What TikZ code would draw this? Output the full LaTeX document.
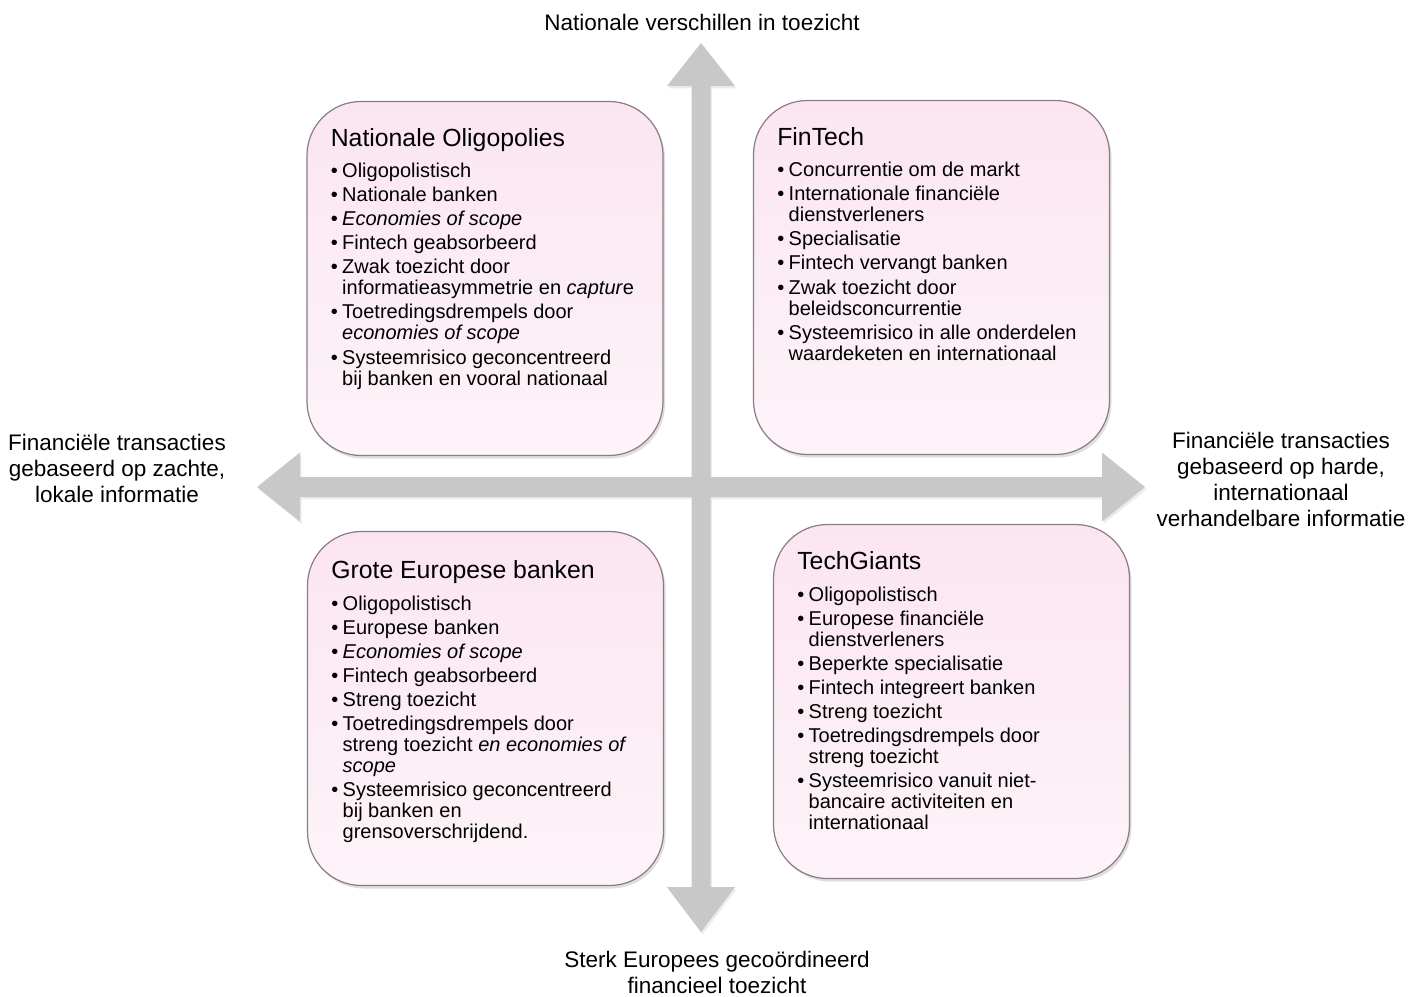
\documentclass[tikz,border=0pt]{standalone}
\usepackage{fontspec}
\setmainfont{Liberation Sans}
\usepackage{tikz}
\usetikzlibrary{shadows}

\definecolor{axisgray}{RGB}{200,200,200}
\definecolor{boxline}{RGB}{140,122,134}
\definecolor{boxtop}{RGB}{251,229,241}
\definecolor{boxbot}{RGB}{253,244,249}

\newcommand{\bl}{\textbullet\hspace{2.2pt}}
\newcommand{\ind}{\phantom{\textbullet}\hspace{2.2pt}}

\begin{document}
\begin{tikzpicture}[x=0.5pt, y=-0.5pt,
    quadrant/.style={draw=boxline, line width=0.6pt, rounded corners=27pt,
      top color=boxtop, bottom color=boxbot, inner sep=0pt,
      minimum width=178pt, minimum height=177pt,
      drop shadow={opacity=0.25, shadow xshift=1pt, shadow yshift=-1.5pt}},
    qtitle/.style={anchor=base west, inner sep=0pt, font=\fontsize{12.4}{14}\selectfont},
    qlist/.style={anchor=north west, inner sep=0pt, align=left, font=\fontsize{10}{10.5}\selectfont},
    axislabel/.style={align=center, inner sep=0pt, font=\fontsize{11.25}{13}\selectfont},
    axis/.style={fill=axisgray, drop shadow={opacity=0.15, shadow xshift=0.8pt, shadow yshift=-1.2pt}}]
  \useasboundingbox (0,0) rectangle (1416,996);

  %% *** Axes ***
  \coordinate (up) at (701,43);
  \coordinate (down) at (701,932);
  \coordinate (left) at (257,487);
  \coordinate (right) at (1145,487);
  \fill[axis] (up) -- (735,86) -- (710.5,86) -- (710.5,887) -- (735,887) -- (down)
    -- (667,887) -- (691.5,887) -- (691.5,86) -- (667,86) -- cycle
    (left) -- (300,452.5) -- (300,477) -- (1102,477) -- (1102,452.5) -- (right)
    -- (1102,521.5) -- (1102,497) -- (300,497) -- (300,521.5) -- cycle;

  \node[axislabel] (toplabel) at (702,22) {Nationale verschillen in toezicht};
  \node[axislabel] (bottomlabel) at (717,972.5) {Sterk Europees gecoördineerd\\financieel toezicht};
  \node[axislabel] (leftlabel) at (117,468) {Financiële transacties\\gebaseerd op zachte,\\lokale informatie};
  \node[axislabel] (rightlabel) at (1281,479.5) {Financiële transacties\\gebaseerd op harde,\\internationaal\\verhandelbare informatie};

  %% *** Nationale Oligopolies ***
  \node[quadrant] (natolig) at (485,278.5) {};
  \node[qtitle] (natolig-t) at ([xshift=12pt, yshift=-23pt]natolig.north west) {Nationale Oligopolies};
  \node[qlist] (natolig-l) at ([xshift=12pt, yshift=-30.8pt]natolig.north west) {%
    \bl Oligopolistisch\\[1.55pt]
    \bl Nationale banken\\[1.55pt]
    \bl \textit{Economies of scope}\\[1.55pt]
    \bl Fintech geabsorbeerd\\[1.55pt]
    \bl Zwak toezicht door\\
    \ind informatieasymmetrie en \textit{captur}e\\[1.55pt]
    \bl Toetredingsdrempels door\\
    \ind \textit{economies of scope}\\[1.55pt]
    \bl Systeemrisico geconcentreerd\\
    \ind bij banken en vooral nationaal};

  %% *** FinTech ***
  \node[quadrant] (fintech) at (931.5,277.5) {};
  \node[qtitle] (fintech-t) at ([xshift=12pt, yshift=-23pt]fintech.north west) {FinTech};
  \node[qlist] (fintech-l) at ([xshift=12pt, yshift=-30.9pt]fintech.north west) {%
    \bl Concurrentie om de markt\\[1.55pt]
    \bl Internationale financiële\\
    \ind dienstverleners\\[1.55pt]
    \bl Specialisatie\\[1.55pt]
    \bl Fintech vervangt banken\\[1.55pt]
    \bl Zwak toezicht door\\
    \ind beleidsconcurrentie\\[1.55pt]
    \bl Systeemrisico in alle onderdelen\\
    \ind waardeketen en internationaal};

  %% *** Grote Europese banken ***
  \node[quadrant] (grote) at (485.5,708.5) {};
  \node[qtitle] (grote-t) at ([xshift=12pt, yshift=-23.6pt]grote.north west) {Grote Europese banken};
  \node[qlist] (grote-l) at ([xshift=12pt, yshift=-32.2pt]grote.north west) {%
    \bl Oligopolistisch\\[1.55pt]
    \bl Europese banken\\[1.55pt]
    \bl \textit{Economies of scope}\\[1.55pt]
    \bl Fintech geabsorbeerd\\[1.55pt]
    \bl Streng toezicht\\[1.55pt]
    \bl Toetredingsdrempels door\\
    \ind streng toezicht \textit{en economies of}\\
    \ind \textit{scope}\\[1.55pt]
    \bl Systeemrisico geconcentreerd\\
    \ind bij banken en\\
    \ind grensoverschrijdend.};

  %% *** TechGiants ***
  \node[quadrant] (techgiants) at (951.5,701.5) {};
  \node[qtitle] (techgiants-t) at ([xshift=12pt, yshift=-22.6pt]techgiants.north west) {TechGiants};
  \node[qlist] (techgiants-l) at ([xshift=12pt, yshift=-31.2pt]techgiants.north west) {%
    \bl Oligopolistisch\\[1.55pt]
    \bl Europese financiële\\
    \ind dienstverleners\\[1.55pt]
    \bl Beperkte specialisatie\\[1.55pt]
    \bl Fintech integreert banken\\[1.55pt]
    \bl Streng toezicht\\[1.55pt]
    \bl Toetredingsdrempels door\\
    \ind streng toezicht\\[1.55pt]
    \bl Systeemrisico vanuit niet-\\
    \ind bancaire activiteiten en\\
    \ind internationaal};
\end{tikzpicture}
\end{document}
